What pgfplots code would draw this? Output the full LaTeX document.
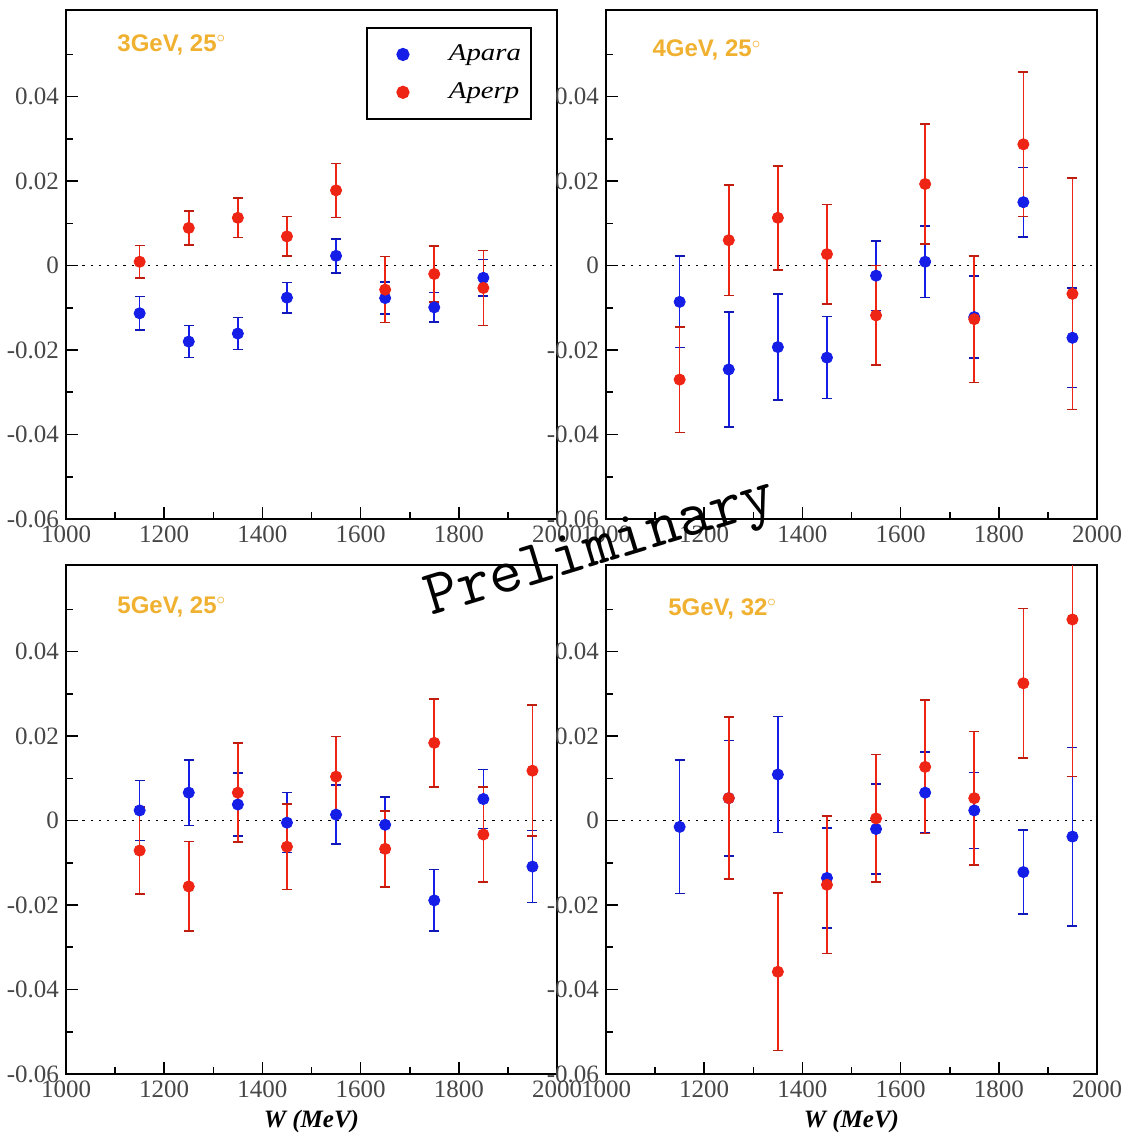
\documentclass[border=0pt]{standalone}
\usepackage{fontspec}
\setmainfont{Liberation Serif}
\newfontfamily\sansfnt{Liberation Sans}
\newfontfamily\legfont[FakeStretch=1.2]{Liberation Serif}
\usepackage{pgfplots}
\usepackage{pgfplotstable}
\pgfplotsset{compat=1.18}

\definecolor{blueA}{RGB}{20,30,230}
\definecolor{redA}{RGB}{238,36,20}
\definecolor{titlecol}{RGB}{240,176,48}
\definecolor{tickgray}{RGB}{70,70,70}

% panel 3GeV 25deg
\pgfplotstableread{
x y e
1150 -0.0113 0.0040
1250 -0.0180 0.0038
1350 -0.0161 0.0038
1450 -0.0076 0.0036
1550 0.0023 0.0040
1650 -0.0077 0.0038
1750 -0.0099 0.0035
1850 -0.0029 0.0043
}\TLb
\pgfplotstableread{
x y e
1150 0.0009 0.0038
1250 0.0089 0.0040
1350 0.0113 0.0047
1450 0.0069 0.0047
1550 0.0178 0.0064
1650 -0.0057 0.0078
1750 -0.0020 0.0066
1850 -0.0053 0.0089
}\TLr
% panel 4GeV 25deg
\pgfplotstableread{
x y e
1150 -0.0086 0.0108
1250 -0.0246 0.0136
1350 -0.0193 0.0125
1450 -0.0218 0.0097
1550 -0.0024 0.0082
1650 0.0009 0.0085
1750 -0.0122 0.0097
1850 0.0150 0.0082
1950 -0.0171 0.0118
}\TRb
\pgfplotstableread{
x y e
1150 -0.0270 0.0125
1250 0.0060 0.0131
1350 0.0113 0.0123
1450 0.0027 0.0118
1550 -0.0118 0.0118
1650 0.0193 0.0142
1750 -0.0127 0.0150
1850 0.0287 0.0171
1950 -0.0067 0.0274
}\TRr
% panel 5GeV 25deg
\pgfplotstableread{
x y e
1150 0.0024 0.0071
1250 0.0066 0.0078
1350 0.0038 0.0075
1450 -0.0005 0.0071
1550 0.0014 0.0070
1650 -0.0010 0.0066
1750 -0.0189 0.0073
1850 0.0051 0.0070
1950 -0.0109 0.0085
}\BLb
\pgfplotstableread{
x y e
1150 -0.0071 0.0103
1250 -0.0156 0.0106
1350 0.0066 0.0117
1450 -0.0062 0.0101
1550 0.0104 0.0095
1650 -0.0067 0.0090
1750 0.0184 0.0104
1850 -0.0033 0.0113
1950 0.0118 0.0155
}\BLr
% panel 5GeV 32deg
\pgfplotstableread{
x y e
1150 -0.0015 0.0158
1250 0.0053 0.0137
1350 0.0109 0.0137
1450 -0.0136 0.0118
1550 -0.0020 0.0106
1650 0.0066 0.0096
1750 0.0024 0.0090
1850 -0.0122 0.0099
1950 -0.0038 0.0211
}\BRb
\pgfplotstableread{
x y e
1250 0.0053 0.0192
1350 -0.0358 0.0186
1450 -0.0152 0.0163
1550 0.0005 0.0151
1650 0.0127 0.0158
1750 0.0053 0.0158
1850 0.0325 0.0177
1950 0.0476 0.0372
}\BRr

\pgfplotsset{
  panel/.style={
    scale only axis, width=245.5pt, height=254.5pt,
    xmin=1000, xmax=2000, ymin=-0.06, ymax=0.0605,
    xtick={1000,1200,1400,1600,1800,2000},
    minor xtick={1100,1300,1500,1700,1900},
    ytick={-0.06,-0.04,-0.02,0,0.02,0.04},
    minor ytick={-0.05,-0.03,-0.01,0.01,0.03,0.05},
    tick align=inside, xtick pos=bottom, ytick pos=left,
    major tick length=6pt, minor tick length=3.5pt,
    scaled y ticks=false, scaled x ticks=false,
    yticklabel style={/pgf/number format/fixed, /pgf/number format/precision=2},
    xticklabel style={/pgf/number format/1000 sep={}},
    /pgf/number format/assume math mode=true,
    tick label style={font=\fontsize{12.5}{14}\selectfont, text=tickgray},
    axis line style={line width=1pt},
    tick style={line width=0.8pt, black},
  },
  withxlabel/.style={xlabel={W (MeV)},
    xlabel style={font=\bfseries\itshape\fontsize{12.5}{14}\selectfont,
      at={(axis description cs:0.5,0)}, anchor=center, yshift=-23.5pt}},
  ser/.style={only marks, mark=*, mark size=2.8pt, color=#1,
    mark options={fill=#1, draw=#1},
    error bars/.cd, y dir=both, y explicit,
    error bar style={line width=0.8pt, color=#1},
    error mark options={rotate=90, mark size=2.5pt, line width=0.8pt, color=#1!80!black}},
  zeroline/.style={black, line width=0.8pt, dash pattern=on 1.1pt off 3pt, forget plot},
}
\newcommand{\paneltitle}[3]{\node[anchor=west, inner sep=0pt, font=\sansfnt\bfseries\fontsize{12}{14}\selectfont, text=titlecol] at (rel axis cs:#1,#2) {#3};}

\begin{document}
\begin{tikzpicture}
\path[use as bounding box] (0pt,0pt) rectangle (564.5pt,-569.5pt);

\begin{axis}[panel, at={(33pt,-5pt)}, anchor=north west,
  legend style={at={(0.949,0.9665)}, anchor=north east, draw=black, line width=1pt,
    font=\legfont\itshape\fontsize{12}{14}\selectfont, row sep=5.5pt,
    inner xsep=3pt, inner ysep=6.5pt, cells={anchor=west}},
  legend image code/.code={\path[draw=none, fill=none] (0pt,-2pt) (24pt,2pt);
    \draw[#1] plot coordinates {(15pt,0pt)};},
  legend cell align=left]
\addplot[zeroline] coordinates {(1000,0) (2000,0)};
\addplot[ser=blueA] table[x=x, y=y, y error=e] {\TLb};
\addplot[ser=redA] table[x=x, y=y, y error=e] {\TLr};
\legend{\hspace{12pt}Apara, \hspace{12pt}Aperp}
\paneltitle{0.104}{0.931}{3GeV, 25$^{\circ}$}
\end{axis}

\begin{axis}[panel, at={(303pt,-5pt)}, anchor=north west]
\addplot[zeroline] coordinates {(1000,0) (2000,0)};
\addplot[ser=blueA] table[x=x, y=y, y error=e] {\TRb};
\addplot[ser=redA] table[x=x, y=y, y error=e] {\TRr};
\paneltitle{0.094}{0.921}{4GeV, 25$^{\circ}$}
\end{axis}

\begin{axis}[panel, withxlabel, at={(33pt,-282.5pt)}, anchor=north west]
\addplot[zeroline] coordinates {(1000,0) (2000,0)};
\addplot[ser=blueA] table[x=x, y=y, y error=e] {\BLb};
\addplot[ser=redA] table[x=x, y=y, y error=e] {\BLr};
\paneltitle{0.104}{0.918}{5GeV, 25$^{\circ}$}
\end{axis}

\begin{axis}[panel, withxlabel, at={(303pt,-282.5pt)}, anchor=north west]
\addplot[zeroline] coordinates {(1000,0) (2000,0)};
\addplot[ser=blueA] table[x=x, y=y, y error=e] {\BRb};
\addplot[ser=redA] table[x=x, y=y, y error=e] {\BRr};
\paneltitle{0.126}{0.914}{5GeV, 32$^{\circ}$}
\end{axis}

\node[anchor=base west, rotate=17, font=\ttfamily\fontsize{32}{32}\selectfont] at (212.5pt,-309pt) {Preliminary};
\end{tikzpicture}
\end{document}
